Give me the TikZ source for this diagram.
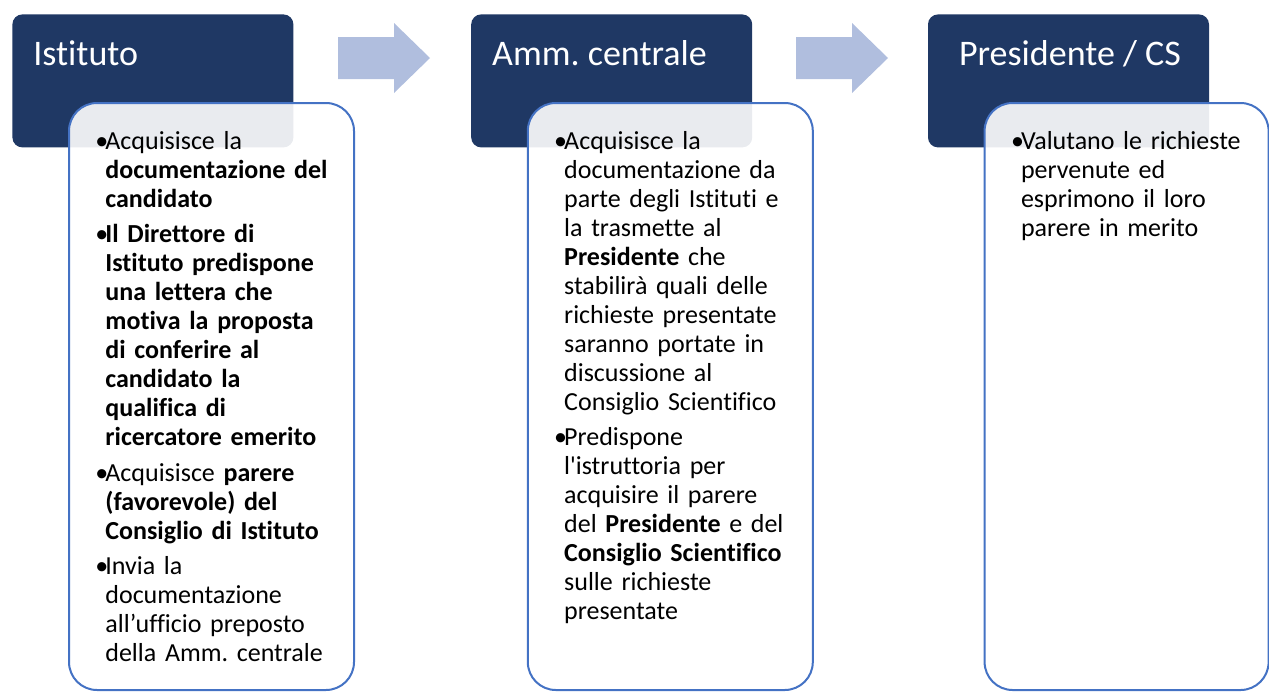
\documentclass[tikz,border=0pt]{standalone}
\usepackage{fontspec}
\setmainfont{Carlito}[Ligatures={TeXOff,NoCommon}]
\usetikzlibrary{positioning}
\definecolor{hdnavy}{RGB}{31,56,100}
\definecolor{boxblue}{RGB}{68,114,196}
\definecolor{arrowfill}{RGB}{176,190,222}
\newcommand\bul{\leftskip=5pt\noindent\llap{\makebox[5pt][l]{•}}}
\newcommand\nxt{\par\vskip3.25pt\bul}

\begin{document}
\begin{tikzpicture}[node distance=88pt,
    header/.style={rectangle,rounded corners=5pt,fill=hdnavy,minimum width=140.5pt,
      minimum height=66.5pt,inner sep=0pt,anchor=north west},
    title/.style={text=white,font=\fontsize{18}{21.6}\selectfont,inner sep=0pt,anchor=base west},
    body/.style={rectangle,rounded corners=14pt,draw=boxblue,line width=1pt,fill=white,
      fill opacity=0.9,minimum width=142.5pt,minimum height=293.5pt,inner sep=0pt},
    bodytext/.style={text width=150pt,inner sep=0pt,anchor=base west,
      font=\fontsize{13}{14.5}\selectfont\frenchspacing}]
        \useasboundingbox (0,0) rectangle (634.5pt,-345.5pt);
        % headers
        \node(hdIst)[header] at (6pt,-7pt){};
        \node(hdAmm)[header,right=88.5pt of hdIst]{};
        \node(hdPres)[header,right=87.5pt of hdAmm]{};
        \node(tIst)[title] at ([shift={(10.5pt,-25.5pt)}]hdIst.north west){Istituto};
        \node(tAmm)[title] at ([shift={(10.5pt,-25.5pt)}]hdAmm.north west){Amm.\ centrale};
        \node(tPres)[title] at ([shift={(15.5pt,-25.5pt)}]hdPres.north west){Presidente / CS};
        % arrows
        \foreach \ax in {169,398}
          \fill[arrowfill] (\ax pt,-18.5pt) -- ++(28pt,0) -- ++(0,7pt) -- ++(18pt,-17.5pt)
            -- ++(-18pt,-17.5pt) -- ++(0,7pt) -- ++(-28pt,0) -- cycle;
        % bodies
        \node(bdIst)[body,below right=44pt and 28pt of hdIst.north west]{};
        \node(bdAmm)[body,below right=44pt and 28pt of hdAmm.north west]{};
        \node(bdPres)[body,below right=44pt and 28pt of hdPres.north west,minimum width=142pt]{};
        \node(txIst)[bodytext] at ([shift={(13.5pt,-23.5pt)}]bdIst.north west){%
          \bul Acquisisce la\\ \textbf{documentazione del}\\ \textbf{candidato}
          \nxt\textbf{Il Direttore di}\\ \textbf{Istituto predispone}\\ \textbf{una lettera che}\\
          \textbf{motiva la proposta}\\ \textbf{di conferire al}\\ \textbf{candidato la}\\
          \textbf{qualifica di}\\ \textbf{ricercatore emerito}
          \nxt Acquisisce \textbf{parere}\\ \textbf{(favorevole) del}\\ \textbf{Consiglio di Istituto}
          \nxt Invia la\\ documentazione\\ all’ufficio preposto\\ della Amm. centrale\par};
        \node(txAmm)[bodytext] at ([shift={(13.5pt,-23.5pt)}]bdAmm.north west){%
          \bul Acquisisce la\\ documentazione da\\ parte degli Istituti e\\ la trasmette al\\
          \textbf{Presidente} che\\ stabilirà quali delle\\ richieste presentate\\
          saranno portate in\\ discussione al\\ Consiglio Scientifico
          \nxt Predispone\\ l'istruttoria per\\ acquisire il parere\\ del \textbf{Presidente} e del\\
          \textbf{Consiglio Scientifico}\\ sulle richieste\\ presentate\par};
        \node(txPres)[bodytext] at ([shift={(13.5pt,-23.5pt)}]bdPres.north west){%
          \bul Valutano le richieste\\ pervenute ed\\ esprimono il loro\\ parere in merito\par};
      \end{tikzpicture}
\end{document}
